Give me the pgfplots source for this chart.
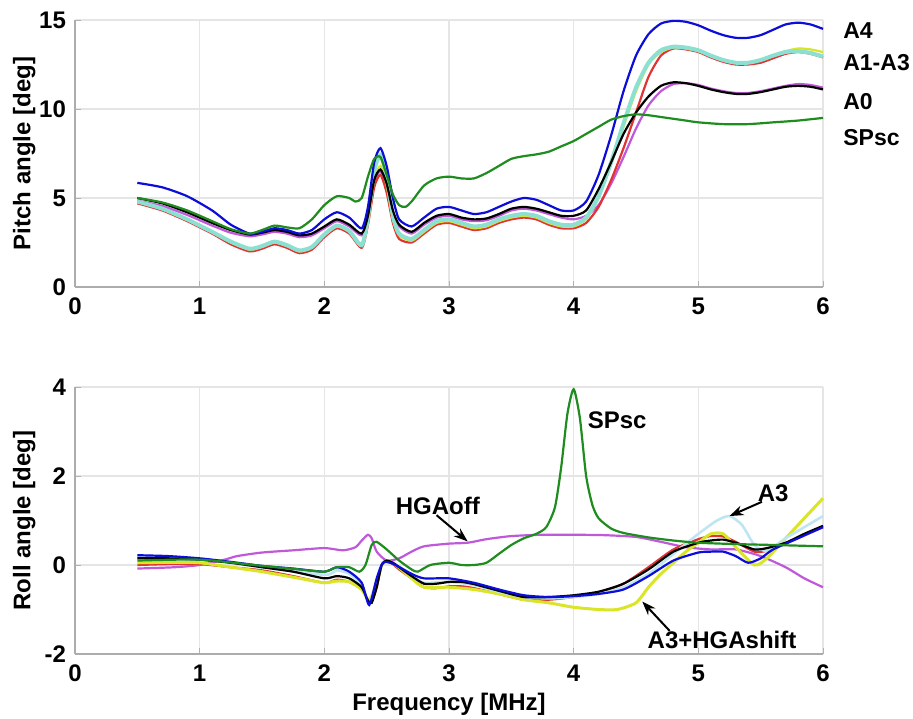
\documentclass[border=0pt]{standalone}
\usepackage{fontspec}
\setmainfont{Liberation Sans}
\usepackage{pgfplots}
\pgfplotsset{compat=1.18}
\usetikzlibrary{arrows.meta}

\definecolor{cA4}{rgb}{0.05,0.05,0.85}
\definecolor{cA0}{rgb}{0,0,0}
\definecolor{cRed}{rgb}{0.88,0.2,0.2}
\definecolor{cCyan}{rgb}{0.55,0.88,0.82}
\definecolor{cYel}{rgb}{0.85,0.9,0.15}
\definecolor{cMag}{rgb}{0.75,0.35,0.85}
\definecolor{cSP}{rgb}{0.12,0.55,0.12}
\definecolor{cA3}{rgb}{0.75,0.9,0.95}

\pgfplotsset{
  matlab/.style={
    scale only axis, width=374pt, height=133.5pt,
    xmin=0, xmax=6, xtick={0,...,6}, xticklabels={0,1,2,3,4,5,6},
    axis x line*=bottom, axis y line*=left,
    axis line style={gray!65, line width=1pt, -},
    tick align=inside, major tick length=3pt,
    tick style={gray!60},
    grid=major, major grid style={gray!20, line width=0.6pt},
    font=\fontsize{12}{14}\selectfont\bfseries,
    ticklabel style={font=\fontsize{12}{14}\selectfont\bfseries},
    yticklabel style={xshift=-1pt},
    xticklabel style={yshift=-2pt},
    ylabel style={at={(rel axis cs:-0.068,0.5)}, anchor=center},
    clip=false,
    every axis plot/.append style={line width=1.1pt, smooth, tension=0.4},
  },
}

\begin{document}
\begin{tikzpicture}
% pitch
\begin{axis}[matlab, name=top,
  ymin=0, ymax=15, ytick={0,5,10,15}, yticklabels={0,5,10,15},
  ylabel={Pitch angle [deg]}]
\addplot[cMag] coordinates {
(0.5,4.85)(0.7,4.55)(0.9,4.05)(1.1,3.45)(1.25,3.05)(1.4,2.85)(1.5,2.95)(1.6,3.1)(1.7,3.0)(1.8,2.8)(1.9,2.9)(2.0,3.3)(2.1,3.7)(2.2,3.4)(2.3,2.9)(2.35,3.9)(2.4,5.9)(2.45,6.5)(2.5,5.7)(2.55,4.2)(2.6,3.4)(2.7,3.0)(2.8,3.5)(2.9,3.9)(3.0,4.0)(3.1,3.8)(3.2,3.7)(3.3,3.75)(3.4,4.0)(3.5,4.3)(3.6,4.4)(3.7,4.3)(3.8,4.1)(3.9,3.9)(4.0,3.8)(4.1,4.0)(4.2,4.6)(4.3,5.8)(4.4,7.3)(4.5,8.9)(4.6,10.2)(4.7,11.0)(4.8,11.4)(4.9,11.45)(5.0,11.35)(5.1,11.15)(5.2,11.0)(5.3,10.9)(5.4,10.9)(5.5,11.0)(5.6,11.15)(5.7,11.3)(5.8,11.4)(5.9,11.35)(6.0,11.2)};
\addplot[cRed] coordinates {
(0.5,4.7)(0.7,4.3)(0.9,3.7)(1.1,3.0)(1.25,2.4)(1.4,2.0)(1.5,2.15)(1.6,2.4)(1.7,2.2)(1.8,1.9)(1.9,2.1)(2.0,2.8)(2.1,3.3)(2.2,3.0)(2.3,2.2)(2.35,3.5)(2.4,5.6)(2.45,6.3)(2.5,5.3)(2.55,3.6)(2.6,2.7)(2.7,2.5)(2.8,3.0)(2.9,3.5)(3.0,3.6)(3.1,3.4)(3.2,3.2)(3.3,3.3)(3.4,3.6)(3.5,3.8)(3.6,3.9)(3.7,3.8)(3.8,3.5)(3.9,3.3)(4.0,3.3)(4.1,3.6)(4.2,4.5)(4.3,6.0)(4.4,7.8)(4.5,9.8)(4.6,11.8)(4.7,13.0)(4.8,13.4)(4.9,13.35)(5.0,13.2)(5.1,12.9)(5.2,12.65)(5.3,12.5)(5.4,12.5)(5.5,12.6)(5.6,12.85)(5.7,13.1)(5.8,13.2)(5.9,13.1)(6.0,12.9)};
\addplot[cYel] coordinates {
(0.5,4.8)(0.7,4.4)(0.9,3.8)(1.1,3.1)(1.25,2.5)(1.4,2.1)(1.5,2.25)(1.6,2.5)(1.7,2.3)(1.8,2.0)(1.9,2.2)(2.0,2.9)(2.1,3.4)(2.2,3.1)(2.3,2.3)(2.35,3.7)(2.4,6.0)(2.45,6.8)(2.5,5.7)(2.55,3.8)(2.6,2.9)(2.7,2.6)(2.8,3.1)(2.9,3.6)(3.0,3.7)(3.1,3.5)(3.2,3.3)(3.3,3.4)(3.4,3.7)(3.5,3.9)(3.6,4.0)(3.7,3.9)(3.8,3.6)(3.9,3.4)(4.0,3.4)(4.1,3.8)(4.2,5.0)(4.3,6.9)(4.4,9.0)(4.5,11.0)(4.6,12.5)(4.7,13.2)(4.8,13.45)(4.9,13.4)(5.0,13.25)(5.1,13.0)(5.2,12.75)(5.3,12.6)(5.4,12.6)(5.5,12.75)(5.6,13.0)(5.7,13.25)(5.8,13.4)(5.9,13.35)(6.0,13.2)};
\addplot[cCyan, line width=2pt] coordinates {
(0.5,4.8)(0.7,4.4)(0.9,3.8)(1.1,3.1)(1.25,2.55)(1.4,2.15)(1.5,2.3)(1.6,2.55)(1.7,2.35)(1.8,2.05)(1.9,2.25)(2.0,2.95)(2.1,3.45)(2.2,3.15)(2.3,2.35)(2.35,3.9)(2.4,6.5)(2.45,7.4)(2.5,6.2)(2.55,4.0)(2.6,3.0)(2.7,2.7)(2.8,3.2)(2.9,3.7)(3.0,3.8)(3.1,3.6)(3.2,3.4)(3.3,3.5)(3.4,3.8)(3.5,4.0)(3.6,4.1)(3.7,4.0)(3.8,3.7)(3.9,3.5)(4.0,3.5)(4.1,3.9)(4.2,5.1)(4.3,7.0)(4.4,9.2)(4.5,11.2)(4.6,12.6)(4.7,13.3)(4.8,13.5)(4.9,13.45)(5.0,13.3)(5.1,13.0)(5.2,12.75)(5.3,12.6)(5.4,12.6)(5.5,12.75)(5.6,13.0)(5.7,13.2)(5.8,13.25)(5.9,13.15)(6.0,12.95)};
\addplot[cA0] coordinates {
(0.5,5.0)(0.7,4.7)(0.9,4.2)(1.1,3.6)(1.25,3.2)(1.4,2.95)(1.5,3.05)(1.6,3.2)(1.7,3.1)(1.8,2.9)(1.9,3.0)(2.0,3.4)(2.1,3.8)(2.2,3.5)(2.3,3.0)(2.35,4.0)(2.4,6.0)(2.45,6.6)(2.5,5.8)(2.55,4.3)(2.6,3.5)(2.7,3.1)(2.8,3.6)(2.9,4.0)(3.0,4.1)(3.1,3.9)(3.2,3.8)(3.3,3.85)(3.4,4.1)(3.5,4.4)(3.6,4.5)(3.7,4.4)(3.8,4.2)(3.9,4.0)(4.0,4.0)(4.1,4.3)(4.2,5.5)(4.3,7.0)(4.4,8.6)(4.5,9.8)(4.6,10.7)(4.7,11.3)(4.8,11.5)(4.9,11.45)(5.0,11.3)(5.1,11.1)(5.2,10.95)(5.3,10.85)(5.4,10.85)(5.5,10.95)(5.6,11.1)(5.7,11.25)(5.8,11.3)(5.9,11.25)(6.0,11.1)};
\addplot[cA4] coordinates {
(0.5,5.85)(0.7,5.6)(0.9,5.1)(1.1,4.3)(1.25,3.5)(1.4,3.0)(1.5,3.1)(1.6,3.3)(1.7,3.2)(1.8,3.0)(1.9,3.2)(2.0,3.8)(2.1,4.2)(2.2,3.9)(2.3,3.3)(2.35,4.5)(2.4,7.0)(2.45,7.8)(2.5,6.8)(2.55,5.0)(2.6,3.8)(2.7,3.4)(2.8,3.9)(2.9,4.4)(3.0,4.5)(3.1,4.3)(3.2,4.1)(3.3,4.2)(3.4,4.5)(3.5,4.8)(3.6,5.0)(3.7,4.9)(3.8,4.6)(3.9,4.3)(4.0,4.3)(4.1,4.8)(4.2,6.3)(4.3,8.5)(4.4,11.0)(4.5,13.0)(4.6,14.2)(4.7,14.8)(4.8,14.95)(4.9,14.9)(5.0,14.7)(5.1,14.4)(5.2,14.15)(5.3,14.0)(5.4,14.0)(5.5,14.15)(5.6,14.45)(5.7,14.75)(5.8,14.85)(5.9,14.75)(6.0,14.5)};
\addplot[cSP] coordinates {
(0.5,5.0)(0.7,4.75)(0.9,4.3)(1.1,3.7)(1.25,3.25)(1.4,3.0)(1.5,3.2)(1.6,3.45)(1.7,3.35)(1.8,3.3)(1.9,3.8)(2.0,4.6)(2.1,5.1)(2.2,5.0)(2.25,4.8)(2.3,5.0)(2.35,6.2)(2.4,7.2)(2.45,7.3)(2.5,6.3)(2.55,5.2)(2.6,4.6)(2.65,4.5)(2.7,4.8)(2.8,5.7)(2.9,6.1)(3.0,6.2)(3.1,6.1)(3.2,6.1)(3.3,6.4)(3.4,6.8)(3.5,7.2)(3.6,7.35)(3.7,7.45)(3.8,7.6)(3.9,7.9)(4.0,8.2)(4.1,8.6)(4.2,9.0)(4.3,9.4)(4.4,9.6)(4.5,9.7)(4.6,9.65)(4.7,9.55)(4.8,9.45)(4.9,9.35)(5.0,9.25)(5.2,9.15)(5.4,9.15)(5.6,9.25)(5.8,9.35)(6.0,9.5)};
\node[anchor=west, inner sep=0pt, font=\fontsize{11.5}{13}\selectfont\bfseries] at (axis cs:6.16,14.4) {A4};
\node[anchor=west, inner sep=0pt, font=\fontsize{11.5}{13}\selectfont\bfseries] at (axis cs:6.16,12.6) {A1-A3};
\node[anchor=west, inner sep=0pt, font=\fontsize{11.5}{13}\selectfont\bfseries] at (axis cs:6.16,10.4) {A0};
\node[anchor=west, inner sep=0pt, font=\fontsize{11.5}{13}\selectfont\bfseries] at (axis cs:6.16,8.4) {SPsc};
\end{axis}

% roll
\begin{axis}[matlab, name=bot, at={(top.south west)}, anchor=north west, yshift=-50pt,
  ymin=-2, ymax=4, ytick={-2,0,2,4}, yticklabels={-2,0,2,4},
  ylabel={Roll angle [deg]},
  xlabel={Frequency [MHz]},
  xlabel style={at={(rel axis cs:0.5,0)}, yshift=-25pt, anchor=center}]
\addplot[cMag] coordinates {
(0.5,-0.08)(0.8,-0.05)(1.0,0.0)(1.2,0.12)(1.3,0.2)(1.5,0.28)(1.75,0.33)(2.0,0.38)(2.15,0.33)(2.25,0.4)(2.3,0.55)(2.35,0.68)(2.38,0.6)(2.42,0.3)(2.5,0.1)(2.6,0.15)(2.7,0.3)(2.8,0.42)(3.0,0.48)(3.15,0.5)(3.3,0.58)(3.5,0.65)(3.75,0.68)(4.0,0.68)(4.25,0.67)(4.5,0.63)(4.7,0.52)(4.9,0.4)(5.1,0.35)(5.3,0.35)(5.5,0.2)(5.7,-0.05)(5.85,-0.3)(6.0,-0.5)};
\addplot[cRed] coordinates {
(0.5,0.0)(0.75,0.02)(1.0,0.02)(1.25,-0.05)(1.5,-0.12)(1.75,-0.25)(2.0,-0.4)(2.1,-0.33)(2.2,-0.38)(2.3,-0.55)(2.35,-0.8)(2.38,-0.82)(2.42,-0.5)(2.46,0.0)(2.5,0.08)(2.55,0.02)(2.6,-0.1)(2.7,-0.3)(2.8,-0.5)(2.9,-0.52)(3.0,-0.48)(3.1,-0.48)(3.2,-0.52)(3.4,-0.65)(3.6,-0.78)(3.8,-0.78)(4.0,-0.72)(4.2,-0.62)(4.4,-0.42)(4.6,-0.05)(4.8,0.35)(5.0,0.58)(5.1,0.65)(5.2,0.64)(5.3,0.52)(5.45,0.3)(5.55,0.32)(5.7,0.48)(5.85,0.68)(6.0,0.85)};
\addplot[cYel, line width=1.5pt] coordinates {
(0.5,0.05)(0.75,0.06)(1.0,0.05)(1.25,-0.05)(1.5,-0.15)(1.8,-0.3)(2.0,-0.4)(2.1,-0.36)(2.2,-0.38)(2.3,-0.55)(2.36,-0.8)(2.42,-0.4)(2.47,0.05)(2.55,0.05)(2.7,-0.3)(2.8,-0.5)(3.0,-0.5)(3.2,-0.55)(3.4,-0.65)(3.6,-0.78)(3.8,-0.85)(4.0,-0.95)(4.2,-1.0)(4.35,-1.0)(4.5,-0.85)(4.6,-0.5)(4.7,-0.2)(4.8,0.05)(4.9,0.3)(5.0,0.5)(5.1,0.7)(5.2,0.7)(5.3,0.4)(5.45,0.0)(5.55,0.15)(5.7,0.6)(5.85,1.05)(6.0,1.5)};
\addplot[cA3, line width=1.3pt] coordinates {
(0.5,0.18)(1.0,0.14)(1.5,-0.05)(2.0,-0.22)(2.1,-0.12)(2.2,-0.2)(2.3,-0.45)(2.36,-0.85)(2.42,-0.35)(2.47,0.05)(2.55,0.05)(2.7,-0.25)(2.8,-0.4)(3.0,-0.38)(3.2,-0.45)(3.4,-0.6)(3.6,-0.72)(3.8,-0.75)(4.0,-0.72)(4.2,-0.65)(4.4,-0.5)(4.6,-0.2)(4.8,0.25)(5.0,0.7)(5.15,1.0)(5.25,1.1)(5.35,0.9)(5.45,0.45)(5.55,0.32)(5.7,0.6)(5.85,0.85)(6.0,1.1)};
\addplot[cA0] coordinates {
(0.5,0.15)(0.75,0.15)(1.0,0.12)(1.25,0.05)(1.5,-0.05)(1.75,-0.15)(2.0,-0.3)(2.1,-0.25)(2.2,-0.3)(2.3,-0.5)(2.35,-0.8)(2.38,-0.85)(2.42,-0.5)(2.46,0.0)(2.5,0.1)(2.55,0.05)(2.6,-0.05)(2.7,-0.25)(2.8,-0.42)(2.9,-0.42)(3.0,-0.38)(3.1,-0.38)(3.2,-0.43)(3.4,-0.58)(3.6,-0.72)(3.8,-0.72)(4.0,-0.68)(4.2,-0.6)(4.4,-0.42)(4.6,-0.1)(4.8,0.3)(5.0,0.5)(5.1,0.55)(5.2,0.57)(5.3,0.5)(5.45,0.35)(5.55,0.38)(5.7,0.5)(5.85,0.7)(6.0,0.88)};
\addplot[cA4] coordinates {
(0.5,0.22)(0.75,0.2)(1.0,0.15)(1.25,0.07)(1.5,-0.02)(1.75,-0.08)(2.0,-0.15)(2.1,-0.05)(2.2,-0.15)(2.3,-0.4)(2.36,-0.9)(2.42,-0.3)(2.47,0.05)(2.55,0.03)(2.7,-0.2)(2.8,-0.3)(3.0,-0.3)(3.2,-0.4)(3.4,-0.55)(3.6,-0.68)(3.8,-0.72)(4.0,-0.7)(4.2,-0.65)(4.4,-0.55)(4.6,-0.25)(4.8,0.1)(5.0,0.28)(5.1,0.3)(5.2,0.3)(5.3,0.2)(5.4,0.05)(5.5,0.15)(5.6,0.35)(5.8,0.6)(6.0,0.85)};
\addplot[cSP] coordinates {
(0.5,0.1)(1.0,0.12)(1.5,-0.02)(1.8,-0.1)(2.0,-0.15)(2.1,-0.05)(2.2,-0.05)(2.28,-0.15)(2.33,0.0)(2.38,0.45)(2.42,0.52)(2.5,0.35)(2.6,0.1)(2.7,-0.1)(2.75,-0.15)(2.85,0.0)(3.0,0.05)(3.1,0.0)(3.2,0.0)(3.3,0.05)(3.4,0.25)(3.5,0.45)(3.6,0.6)(3.7,0.7)(3.78,0.85)(3.85,1.3)(3.9,2.2)(3.95,3.4)(4.0,3.95)(4.05,3.3)(4.1,2.0)(4.15,1.35)(4.2,1.05)(4.3,0.82)(4.4,0.72)(4.6,0.62)(4.8,0.55)(5.0,0.5)(5.3,0.47)(5.6,0.45)(6.0,0.42)};
\node[anchor=west, inner sep=0pt] at (axis cs:4.11,3.26) {SPsc};
\node[inner sep=0pt] at (axis cs:2.91,1.33) {HGAoff};
\draw[-{Stealth[length=7pt,width=5pt]}, line width=1pt] (axis cs:2.90,1.12) -- (axis cs:3.15,0.53);
\node[inner sep=0pt] at (axis cs:5.60,1.62) {A3};
\draw[-{Stealth[length=7pt,width=5pt]}, line width=1pt] (axis cs:5.51,1.42) -- (axis cs:5.25,1.1);
\node[inner sep=0pt] at (axis cs:5.19,-1.69) {A3+HGAshift};
\draw[-{Stealth[length=7pt,width=5pt]}, line width=1pt] (axis cs:4.77,-1.48) -- (axis cs:4.55,-0.82);
\end{axis}
\pgfresetboundingbox
\path[use as bounding box] ([xshift=-37.5pt,yshift=10pt]top.north west) rectangle ([xshift=45pt,yshift=-32.5pt]bot.south east);
\end{tikzpicture}
\end{document}
